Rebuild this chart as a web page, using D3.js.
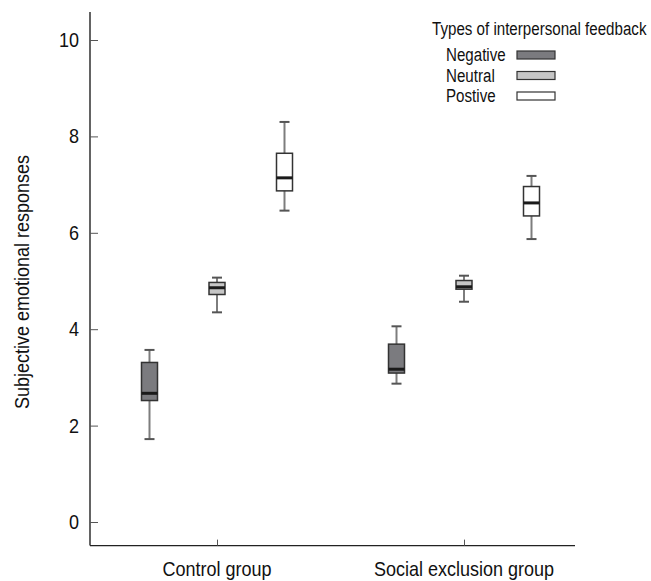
<!DOCTYPE html>
<html><head><meta charset="utf-8">
<script src="https://cdn.jsdelivr.net/npm/d3@7/dist/d3.min.js"></script>
<style>
body{margin:0;background:#fff}
text{font-family:"Liberation Sans",Arial,sans-serif;fill:#111}
</style>
</head><body><svg id="c" width="651" height="581"></svg>
<script>
const groups = ["Control group", "Social exclusion group"];
const types = ["Negative", "Neutral", "Postive"];
const whiskerLow  = [[1.72, 4.35, 6.46], [2.87, 4.57, 5.87]];
const q1          = [[2.52, 4.72, 6.87], [3.09, 4.83, 6.35]];
const median      = [[2.67, 4.86, 7.14], [3.17, 4.88, 6.62]];
const q3          = [[3.31, 4.97, 7.65], [3.69, 5.01, 6.96]];
const whiskerHigh = [[3.57, 5.07, 8.30], [4.06, 5.11, 7.18]];
const yTicks = [0, 2, 4, 6, 8, 10];
const legendTitle = "Types of interpersonal feedback";
const yTitle = "Subjective emotional responses";
const fills = ["#7b7b7f", "#c6c6c6", "#ffffff"];

const rows = [];
groups.forEach((g, gi) => types.forEach((t, ti) => rows.push({
  g, t, lo: whiskerLow[gi][ti], q1: q1[gi][ti], med: median[gi][ti], q3: q3[gi][ti], hi: whiskerHigh[gi][ti]
})));

const svg = d3.select("#c");
function label(parent, x, y, str, size, anchor, rot, sx) {
  return parent.append("text")
    .attr("transform", `translate(${x},${y}) rotate(${rot || 0}) scale(${sx || 0.9},1)`)
    .attr("text-anchor", anchor || "start").attr("font-size", size).text(str);
}

const y = d3.scaleLinear().domain([0, 10]).range([522, 40]);
const yDom = [-0.49, 10.58];
const x = d3.scalePoint().domain(groups).range([217, 464]);
const xi = d3.scalePoint().domain(types).range([-67.5, 67.5]);
const xLeft = 90, xRight = 575;
const boxW = 16, capW = 10;
const color = d3.scaleOrdinal().domain(types).range(fills);

// axes
svg.append("line").attr("x1", xLeft).attr("x2", xLeft)
  .attr("y1", y(yDom[0])).attr("y2", y(yDom[1]))
  .attr("stroke", "#222").attr("stroke-width", 1.4);
svg.append("line").attr("x1", xLeft).attr("x2", xRight)
  .attr("y1", y(yDom[0])).attr("y2", y(yDom[0]))
  .attr("stroke", "#222").attr("stroke-width", 1.4);

const yAxis = svg.append("g").attr("transform", `translate(${xLeft},0)`)
  .call(d3.axisRight(y).tickValues(yTicks).tickSize(8).tickFormat(""));
yAxis.select(".domain").remove();
yAxis.selectAll(".tick line").attr("stroke", "#555");
yTicks.forEach(d => label(svg, 79, y(d) + 7, d, 20, "end"));

const xAxis = svg.append("g").attr("transform", `translate(0,${y(yDom[0])})`)
  .call(d3.axisTop(x).tickSize(6).tickFormat(""));
xAxis.select(".domain").remove();
xAxis.selectAll(".tick line").attr("stroke", "#555");
groups.forEach(g => label(svg, x(g), 576, g, 20, "middle"));

label(svg, 29, 282, yTitle, 20, "middle", -90);

// boxes
const bx = d => x(d.g) + xi(d.t);
const b = svg.append("g").selectAll("g").data(rows).join("g");
b.append("line").attr("x1", bx).attr("x2", bx)
  .attr("y1", d => y(d.lo)).attr("y2", d => y(d.hi))
  .attr("stroke", "#7d7d7d").attr("stroke-width", 2);
b.append("line").attr("x1", d => bx(d) - capW / 2).attr("x2", d => bx(d) + capW / 2)
  .attr("y1", d => y(d.hi)).attr("y2", d => y(d.hi))
  .attr("stroke", "#555").attr("stroke-width", 2);
b.append("line").attr("x1", d => bx(d) - capW / 2).attr("x2", d => bx(d) + capW / 2)
  .attr("y1", d => y(d.lo)).attr("y2", d => y(d.lo))
  .attr("stroke", "#555").attr("stroke-width", 2);
b.append("rect").attr("x", d => bx(d) - boxW / 2).attr("width", boxW)
  .attr("y", d => y(d.q3)).attr("height", d => y(d.q1) - y(d.q3))
  .attr("fill", d => color(d.t)).attr("stroke", "#333").attr("stroke-width", 1.5);
b.append("line").attr("x1", d => bx(d) - boxW / 2).attr("x2", d => bx(d) + boxW / 2)
  .attr("y1", d => y(d.med)).attr("y2", d => y(d.med))
  .attr("stroke", "#1a1a1a").attr("stroke-width", 3);

// legend
label(svg, 432, 35, legendTitle, 17.6, "start", 0, 0.86);
const lg = svg.append("g").selectAll("g").data(types).join("g")
  .attr("transform", (d, i) => `translate(0,${55 + i * 20.5})`);
lg.each(function (d) { label(d3.select(this), 446, 6, d, 17.6, "start", 0, 0.86); });
lg.append("rect").attr("x", 517).attr("y", -4).attr("width", 38).attr("height", 8)
  .attr("fill", d => color(d)).attr("stroke", "#333").attr("stroke-width", 1.2);
</script>
</body></html>
